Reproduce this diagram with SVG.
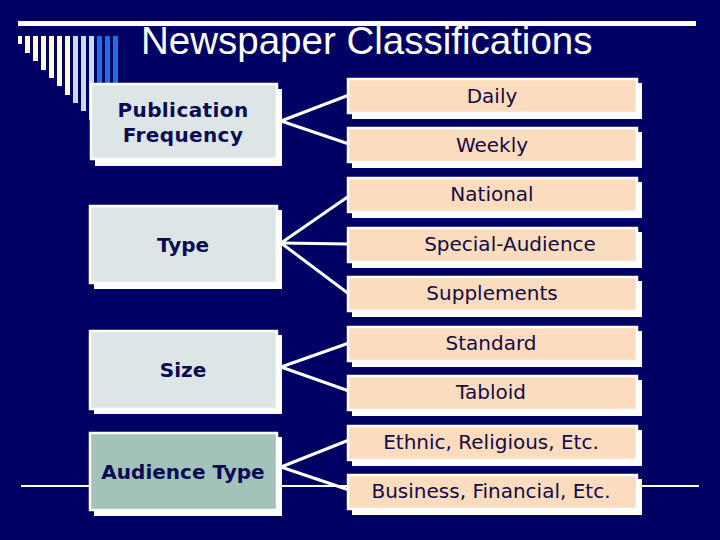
<svg xmlns="http://www.w3.org/2000/svg" width="720" height="540" viewBox="0 0 720 540">
<style>
.bg{fill:#000064}
.sh{fill:#ffffff}
.lb{fill:#DDE6E6;stroke:#ffffff;stroke-width:2.5}
.ab{fill:#A3C2BA;stroke:#ffffff;stroke-width:2.5}
.rb{fill:#FCDCBE;stroke:#ffffff;stroke-width:2.5}
.lt{font-family:"DejaVu Sans",Verdana,sans-serif;font-weight:bold;font-size:20px;fill:#0A0A55;text-anchor:middle}
.rt{font-family:"DejaVu Sans",Verdana,sans-serif;font-size:20px;fill:#140A45;text-anchor:middle}
.cn{stroke:#ffffff;stroke-width:3;fill:none}
.c1{fill:#FFFBDC}
.c2{fill:#C8DCF5}
.c3{fill:#1E6EE0}
</style>
<rect class="bg" x="0" y="0" width="720" height="540"/>
<g id="decoration">
<rect x="18" y="21" width="678" height="5" fill="#ffffff"/>
<rect class="c1" x="18" y="36" width="4" height="8"/>
<rect class="c1" x="25" y="36" width="5" height="17"/>
<rect class="c1" x="33" y="36" width="5" height="25"/>
<rect class="c1" x="41" y="36" width="5" height="34"/>
<rect class="c1" x="49" y="36" width="5" height="42"/>
<rect class="c1" x="57" y="36" width="5" height="50"/>
<rect class="c1" x="65" y="36" width="5" height="59"/>
<rect class="c2" x="73" y="36" width="5" height="67"/>
<rect class="c2" x="81" y="36" width="5" height="75"/>
<rect class="c2" x="89" y="36" width="5" height="84"/>
<rect class="c3" x="97" y="36" width="5" height="92"/>
<rect class="c3" x="105" y="36" width="5" height="100"/>
<rect class="c3" x="113" y="36" width="5" height="109"/>
<line x1="21" y1="486" x2="699" y2="486" stroke="#ffffff" stroke-width="2"/>
</g>
<text x="141" y="54" font-family="'Liberation Sans',Arial,sans-serif" font-size="38.5" fill="#ffffff">Newspaper Classifications</text>
<g id="connectors">
<line class="cn" x1="281" y1="121" x2="349" y2="95"/>
<line class="cn" x1="281" y1="121" x2="349" y2="144"/>
<line class="cn" x1="281" y1="243" x2="349" y2="196"/>
<line class="cn" x1="281" y1="243" x2="349" y2="244"/>
<line class="cn" x1="281" y1="243" x2="349" y2="294"/>
<line class="cn" x1="281" y1="367" x2="349" y2="343"/>
<line class="cn" x1="281" y1="367" x2="349" y2="391"/>
<line class="cn" x1="281" y1="467" x2="349" y2="440"/>
<line class="cn" x1="281" y1="467" x2="349" y2="490"/>
</g>
<g id="pub-frequency">
<rect class="sh" x="95" y="89" width="187" height="77"/>
<rect class="lb" x="91" y="84" width="186" height="75"/>
<text class="lt" x="183" y="117" font-size="19.5" letter-spacing="0.4">Publication</text>
<text class="lt" x="183" y="142" font-size="19.5" letter-spacing="0.4">Frequency</text>
</g>
<g id="type">
<rect class="sh" x="94" y="210" width="188" height="79"/>
<rect class="lb" x="90" y="206" width="187" height="77"/>
<text class="lt" x="183" y="252">Type</text>
</g>
<g id="size">
<rect class="sh" x="94" y="335" width="188" height="79"/>
<rect class="lb" x="90" y="331" width="187" height="78"/>
<text class="lt" x="183" y="377">Size</text>
</g>
<g id="audience-type">
<rect class="sh" x="94" y="437" width="188" height="79"/>
<rect class="ab" x="90" y="433" width="187" height="77"/>
<text class="lt" x="183" y="479" font-size="19">Audience Type</text>
</g>
<g id="daily">
<rect class="sh" x="352" y="83" width="290" height="36"/>
<rect class="rb" x="348" y="79" width="289" height="34"/>
<text class="rt" x="492" y="103">Daily</text>
</g>
<g id="weekly">
<rect class="sh" x="352" y="132" width="290" height="36"/>
<rect class="rb" x="348" y="128" width="289" height="34"/>
<text class="rt" x="492" y="152">Weekly</text>
</g>
<g id="national">
<rect class="sh" x="352" y="182" width="290" height="36"/>
<rect class="rb" x="348" y="178" width="289" height="34"/>
<text class="rt" x="492" y="201">National</text>
</g>
<g id="special-audience">
<rect class="sh" x="352" y="232" width="290" height="36"/>
<rect class="rb" x="348" y="228" width="289" height="34"/>
<text class="rt" x="510" y="251">Special-Audience</text>
</g>
<g id="supplements">
<rect class="sh" x="352" y="281" width="290" height="36"/>
<rect class="rb" x="348" y="277" width="289" height="34"/>
<text class="rt" x="492" y="300">Supplements</text>
</g>
<g id="standard">
<rect class="sh" x="352" y="331" width="290" height="36"/>
<rect class="rb" x="348" y="327" width="289" height="34"/>
<text class="rt" x="491" y="350">Standard</text>
</g>
<g id="tabloid">
<rect class="sh" x="352" y="380" width="290" height="36"/>
<rect class="rb" x="348" y="376" width="289" height="34"/>
<text class="rt" x="491" y="399">Tabloid</text>
</g>
<g id="ethnic">
<rect class="sh" x="352" y="430" width="290" height="36"/>
<rect class="rb" x="348" y="426" width="289" height="34"/>
<text class="rt" x="491" y="449">Ethnic, Religious, Etc.</text>
</g>
<g id="business">
<rect class="sh" x="352" y="479" width="290" height="36"/>
<rect class="rb" x="348" y="475" width="289" height="34"/>
<text class="rt" x="491" y="498">Business, Financial, Etc.</text>
</g>
</svg>
